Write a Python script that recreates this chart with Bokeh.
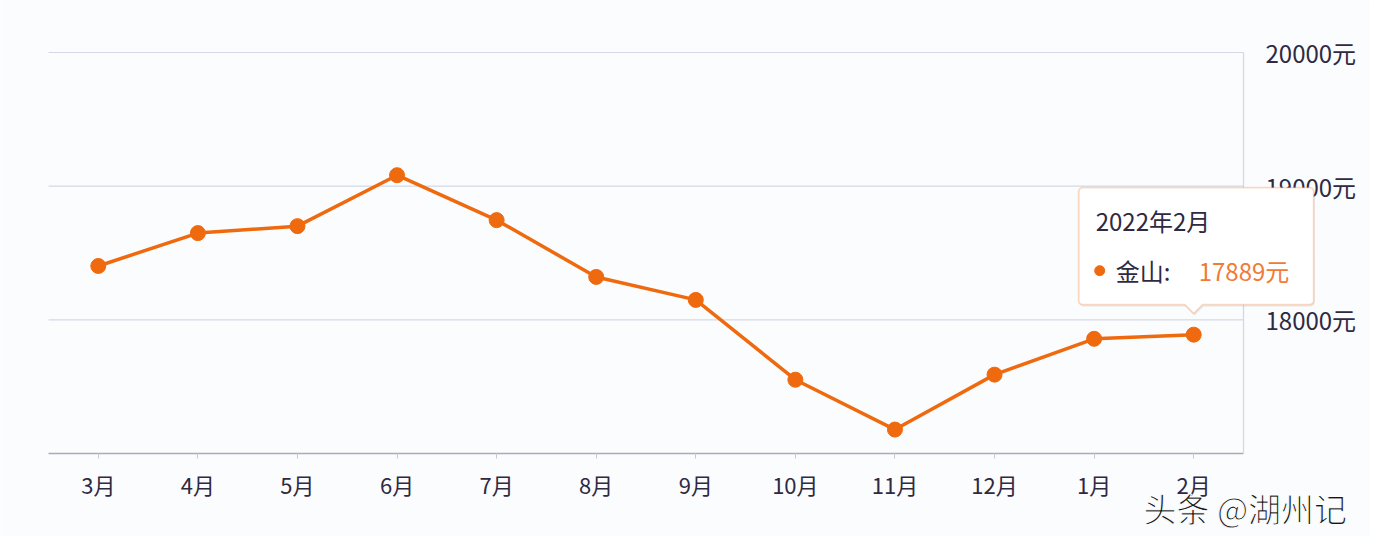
import math
from bokeh.plotting import figure
from bokeh.models import Range1d, FixedTicker, PolyAnnotation, Label
from bokeh.embed import file_html
from bokeh.resources import INLINE

# ---- data ----
months = ["3月", "4月", "5月", "6月", "7月", "8月", "9月", "10月", "11月", "12月", "1月", "2月"]
prices = [18403, 18649, 18701, 19082, 18746, 18321, 18149, 17552, 17179, 17590, 17858, 17889]
y_ticks = [18000, 19000, 20000]
unit = "元"
series_name = "金山"
tooltip_title = "2022年2月"
watermark = "头条 @湖州记"

# ---- style ----
ORANGE = "#ef6a0e"
TIP_BORDER = "#f0843a"
VALUE_ORANGE = "#f07a36"
TEXT = "#2f2942"
BG = "#fbfcfe"
GRID = "#d5d9e5"
FONT = "Noto Sans CJK SC"

W, H = 1370, 536
# plot area (pixels inside the canvas)
PL, PR, PT, PB = 48, 1243, 52, 453

xs = list(range(len(months)))
x0, x1 = -0.5, len(months) - 0.5
y0, y1 = 17000, 20000
kx = (PR - PL) / (x1 - x0)   # px per x unit
ky = (PB - PT) / (y1 - y0)   # px per y unit
# the frame covers the whole canvas so that overlays are not clipped
X_START, X_END = x0 - PL / kx, x0 + (W - PL) / kx
Y_START, Y_END = y0 - (H - PB) / ky, y1 + PT / ky

p = figure(width=W, height=H, x_range=Range1d(X_START, X_END), y_range=Range1d(Y_START, Y_END),
           output_backend="svg", toolbar_location=None, y_axis_location="right",
           min_border_left=0, min_border_right=0, min_border_top=0, min_border_bottom=0)
p.background_fill_color = BG
p.border_fill_color = BG
p.outline_line_color = None
p.xgrid.visible = False
p.ygrid.visible = False

# horizontal grid lines across the plot area only
grid = p.segment(x0=[x0] * len(y_ticks), x1=[x1] * len(y_ticks), y0=y_ticks, y1=y_ticks,
                 line_color=GRID, line_width=1.2)
grid.level = "underlay"

# x axis
xa = p.xaxis[0]
xa.fixed_location = y0
xa.bounds = (x0, x1)
xa.ticker = FixedTicker(ticks=xs)
xa.major_label_overrides = {i: m for i, m in enumerate(months)}
xa.axis_line_color = "#a4abbb"
xa.axis_line_width = 1.5
xa.major_tick_line_color = "#c4c9d4"
xa.major_tick_out = 5
xa.major_tick_in = 0
xa.minor_tick_line_color = None
xa.major_label_standoff = 9
xa.major_label_text_font = FONT
xa.major_label_text_font_size = "22px"
xa.major_label_text_color = TEXT

# y axis (right edge of plot area)
ya = p.yaxis[0]
ya.fixed_location = x1
ya.bounds = (y0, y1)
ya.ticker = FixedTicker(ticks=y_ticks)
ya.major_label_overrides = {t: f"{t}{unit}" for t in y_ticks}
ya.axis_line_color = "#d3d7e0"
ya.axis_line_width = 1.2
ya.major_tick_line_color = None
ya.minor_tick_line_color = None
ya.major_label_standoff = 16
ya.major_label_text_font = FONT
ya.major_label_text_font_size = "24px"
ya.major_label_text_color = TEXT

# series
p.line(xs, prices, line_width=3.5, color=ORANGE)
p.scatter(xs, prices, size=15, color=ORANGE)

# ---- tooltip at last point ----
px, py = xs[-1], prices[-1]
def X(off):
    return px + off / kx
def Y(off):
    return py + off / ky

L, R, T, B, TIP, HW, r = -115, 120, 147, 30, 21, 9, 4
def arc(cx, cy, a0, a1, n=5):
    return [(cx + r * math.cos(math.radians(a0 + (a1 - a0) * i / n)),
             cy + r * math.sin(math.radians(a0 + (a1 - a0) * i / n))) for i in range(n + 1)]
pts = []
pts += arc(L + r, T - r, 90, 180)
pts += arc(L + r, B + r, 180, 270)
pts += [(-HW, B), (0, TIP), (HW, B)]
pts += arc(R - r, B + r, 270, 360)
pts += arc(R - r, T - r, 0, 90)

shadow = PolyAnnotation(xs=[X(a + 1) for a, b in pts], ys=[Y(b - 2) for a, b in pts],
                        fill_color="#999999", fill_alpha=0.15, line_color=None)
box = PolyAnnotation(xs=[X(a) for a, b in pts], ys=[Y(b) for a, b in pts],
                     fill_color="white", fill_alpha=1.0, line_color=TIP_BORDER, line_width=1.8)
p.add_layout(shadow)
p.add_layout(box)

def label(dx, dy, text, color, size="24px"):
    p.add_layout(Label(x=X(dx), y=Y(dy), text=text,
                       text_font=FONT, text_font_size=size, text_color=color,
                       text_baseline="middle", text_align="left"))

label(-98, 114, tooltip_title, TEXT)
dot = p.scatter([X(-94)], [Y(64)], size=10, color=ORANGE)
dot.level = "overlay"
label(-78, 64, f"{series_name}:", TEXT)
label(5, 64, f"{prices[-1]}{unit}", VALUE_ORANGE)

# watermark
p.add_layout(Label(x=X_START + 1143 / kx, y=Y_END - 507 / ky,
                   text=watermark, text_font=FONT, text_font_size="33px",
                   text_color="#151515", text_baseline="middle", text_align="left",
                   text_outline_color="white"))

open("out.html", "w").write(file_html(p, INLINE))
